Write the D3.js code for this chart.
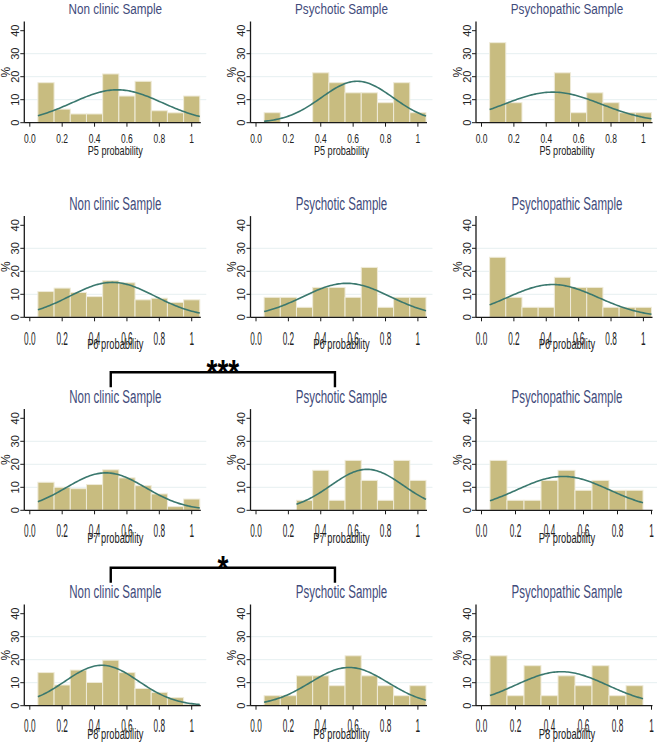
<!DOCTYPE html>
<html><head><meta charset="utf-8">
<script src="https://cdn.jsdelivr.net/npm/d3@7"></script>
<style>body{margin:0;background:#fff;} svg{display:block;}</style>
</head><body>
<script>
// ---------- data ----------
const variables = ["P5", "P6", "P7", "P8"];
const samples = ["Non clinic Sample", "Psychotic Sample", "Psychopathic Sample"];
const binWidth = 0.1;
const binCenters = [0.1, 0.2, 0.3, 0.4, 0.5, 0.6, 0.7, 0.8, 0.9, 1.0];
const xTickValues = [0, 0.2, 0.4, 0.6, 0.8, 1];
const xTickLabels = ["0.0", "0.2", "0.4", "0.6", "0.8", "1"];
const yTickValues = [0, 10, 20, 30, 40];
const gridValues = [10, 20, 30];

// percent of sample per bin (bins centred on binCenters)
const p5NonClinic     = [17.4, 5.9, 3.8, 3.8, 21.2, 11.6, 18.0, 5.2, 4.3, 11.6];
const p5Psychotic     = [4.35, 0, 0, 21.7, 17.4, 13.0, 13.0, 8.7, 17.4, 4.35];
const p5Psychopathic  = [34.8, 8.7, 0, 0, 21.7, 4.35, 13.0, 8.7, 4.35, 4.35];
const p6NonClinic     = [11.2, 12.7, 10.8, 9.0, 15.9, 15.0, 7.6, 8.3, 6.5, 7.6];
const p6Psychotic     = [8.7, 8.7, 4.35, 13.0, 13.0, 8.7, 21.7, 4.35, 8.7, 8.7];
const p6Psychopathic  = [26.1, 8.7, 4.35, 4.35, 17.4, 13.0, 13.0, 4.35, 4.35, 4.35];
const p7NonClinic     = [12.2, 10.0, 9.4, 11.2, 17.6, 14.1, 10.7, 7.1, 1.6, 4.9];
const p7Psychotic     = [0, 0, 4.35, 17.4, 4.35, 21.7, 13.0, 4.35, 21.7, 13.0];
const p7Psychopathic  = [21.7, 4.35, 4.35, 13.0, 17.4, 8.7, 13.0, 8.7, 8.7];
const p8NonClinic     = [14.4, 9.0, 15.5, 10.1, 19.8, 14.4, 7.5, 5.8, 3.5, 0.6];
const p8Psychotic     = [4.35, 4.35, 13.0, 13.0, 8.7, 21.7, 13.0, 8.7, 4.35, 8.7];
const p8Psychopathic  = [21.7, 4.35, 17.4, 4.35, 13.0, 8.7, 17.4, 4.35, 8.7];

// fitted normal overlay (mean, sd) per panel
const normalMeans = [[0.54, 0.625, 0.44], [0.51, 0.56, 0.44], [0.47, 0.686, 0.48], [0.445, 0.575, 0.47]];
const normalSds   = [[0.279, 0.2216, 0.30], [0.263, 0.27, 0.28], [0.245, 0.224, 0.271], [0.227, 0.24, 0.27]];

// significance brackets (Non clinic vs Psychotic)
const sigRows = [2, 3];
const sigLabels = ["***", "*"];

const panelPercents = [
  [p5NonClinic, p5Psychotic, p5Psychopathic],
  [p6NonClinic, p6Psychotic, p6Psychopathic],
  [p7NonClinic, p7Psychotic, p7Psychopathic],
  [p8NonClinic, p8Psychotic, p8Psychopathic]
];

// ---------- layout ----------
const W = 657, H = 743;
const colAxisX = [24.3, 250.5, 476];
const rowZeroY = [122.7, 317.3, 510.3, 705.7];
const rowStyle = [
  {titleY: 13.5, titleFs: 15.4, titleSx: 0.76, tickDy: 20, tickFs: 13, tickSx: 0.65, labDy: 32.3, labFs: 12, labSx: 0.76},
  {titleY: 210, titleFs: 18, titleSx: 0.64, tickDy: 27.7, tickFs: 17.5, tickSx: 0.47, labDy: 31.7, labFs: 15, labSx: 0.62},
  {titleY: 403.3, titleFs: 18, titleSx: 0.64, tickDy: 26.4, tickFs: 17.5, tickSx: 0.47, labDy: 32.7, labFs: 15, labSx: 0.62},
  {titleY: 598.3, titleFs: 18, titleSx: 0.64, tickDy: 26, tickFs: 17.5, tickSx: 0.47, labDy: 33.3, labFs: 15, labSx: 0.62}
];
const FONT = "'Liberation Sans', Arial, sans-serif";
const barFill = "#c8bc80", barStroke = "#efebd9";
const curveColor = "#3a786e";
const titleColor = "#3f4b7b";
const axisColor = "#1a1a1a";
const gridColor = "#e6eff1";

const svg = d3.select("body").append("svg").attr("width", W).attr("height", H)
  .attr("font-family", FONT);
svg.append("rect").attr("width", W).attr("height", H).attr("fill", "#fff");

function sText(g, x, y, str, fs, sx, fill, anchor) {
  return g.append("text")
    .attr("transform", `translate(${x},${y}) scale(${sx},1)`)
    .attr("text-anchor", anchor || "middle")
    .attr("font-size", fs)
    .attr("fill", fill)
    .text(str);
}

const xScales = [];
variables.forEach((v, r) => {
  xScales[r] = [];
  samples.forEach((s, c) => {
    const vals = panelPercents[r][c];
    const ax = colAxisX[c];
    const zero = rowZeroY[r];
    const st = rowStyle[r];
    const binEnd = binCenters[vals.length - 1] + binWidth / 2;
    const dmax = Math.max(1, binEnd);
    const x = d3.scaleLinear().domain([0, dmax]).range([ax + 5.5, ax + 5.5 + 170]);
    const y = d3.scaleLinear().domain([0, 40]).range([zero, zero - 92]);
    xScales[r][c] = x;
    const g = svg.append("g");

    // gridlines
    g.selectAll("line.grid").data(gridValues).join("line")
      .attr("x1", ax).attr("x2", ax + 182)
      .attr("y1", d => y(d)).attr("y2", d => y(d))
      .attr("stroke", gridColor).attr("stroke-width", 1);

    // bars
    const bins = vals.map((p, i) => ({c: binCenters[i], p})).filter(d => d.p > 0);
    g.selectAll("rect.bar").data(bins).join("rect")
      .attr("x", d => x(d.c - binWidth / 2))
      .attr("width", d => x(d.c + binWidth / 2) - x(d.c - binWidth / 2))
      .attr("y", d => y(d.p))
      .attr("height", d => y(0) - y(d.p))
      .attr("fill", barFill).attr("stroke", barStroke).attr("stroke-width", 1);

    // normal curve over the data range
    const first = vals.findIndex(p => p > 0);
    const x0 = binCenters[first] - binWidth / 2, x1 = binEnd;
    const m = normalMeans[r][c], sd = normalSds[r][c];
    const pts = d3.range(0, 101).map(k => {
      const xv = x0 + (x1 - x0) * k / 100;
      const dens = Math.exp(-0.5 * ((xv - m) / sd) ** 2) / (sd * Math.sqrt(2 * Math.PI));
      return [xv, dens * binWidth * 100];
    });
    g.append("path").datum(pts)
      .attr("d", d3.line().x(d => x(d[0])).y(d => y(d[1])))
      .attr("fill", "none").attr("stroke", curveColor).attr("stroke-width", 1.6);

    // axes
    g.append("line").attr("x1", ax).attr("x2", ax).attr("y1", zero).attr("y2", y(44))
      .attr("stroke", axisColor).attr("stroke-width", 1.3);
    g.append("line").attr("x1", ax).attr("x2", x(dmax) + 1).attr("y1", zero).attr("y2", zero)
      .attr("stroke", axisColor).attr("stroke-width", 1.3);

    // y ticks and labels
    g.selectAll("line.yt").data(yTickValues).join("line")
      .attr("x1", ax - 4).attr("x2", ax).attr("y1", d => y(d)).attr("y2", d => y(d))
      .attr("stroke", axisColor).attr("stroke-width", 1);
    yTickValues.forEach(t => {
      g.append("text")
        .attr("transform", `translate(${ax - 9},${y(t)}) rotate(-90)`)
        .attr("text-anchor", "middle").attr("dy", "0.35em")
        .attr("font-size", 11).attr("fill", "#222").text(t);
    });
    g.append("text")
      .attr("transform", `translate(${ax - 18.5},${y(22)}) rotate(-90)`)
      .attr("text-anchor", "middle").attr("dy", "0.35em")
      .attr("font-size", 12).attr("fill", "#222").text("%");

    // x ticks and labels
    g.selectAll("line.xt").data(xTickValues).join("line")
      .attr("x1", d => x(d)).attr("x2", d => x(d)).attr("y1", zero).attr("y2", zero + 4)
      .attr("stroke", axisColor).attr("stroke-width", 1);
    xTickValues.forEach((t, i) => {
      sText(g, x(t), zero + st.tickDy, xTickLabels[i], st.tickFs, st.tickSx, "#222");
    });
    sText(g, ax + 91, zero + st.labDy, v + " probability", st.labFs, st.labSx, "#222");

    // title
    sText(g, ax + 91, st.titleY, s, st.titleFs, st.titleSx, titleColor);
  });
});

// significance brackets
sigRows.forEach((r, i) => {
  const zero = rowZeroY[r];
  const xa = xScales[r][0](0.5), xb = xScales[r][1](0.5) - 2;
  const ly = zero - 138, ty = zero - 123;
  svg.append("path")
    .attr("d", `M${xa},${ty}V${ly}H${xb}V${ty}`)
    .attr("fill", "none").attr("stroke", "#000").attr("stroke-width", 2.4);
  sText(svg, (xa + xb) / 2, ly + 12, sigLabels[i], 36, 0.78, "#000").attr("font-weight", "bold");
});
</script>
</body></html>
